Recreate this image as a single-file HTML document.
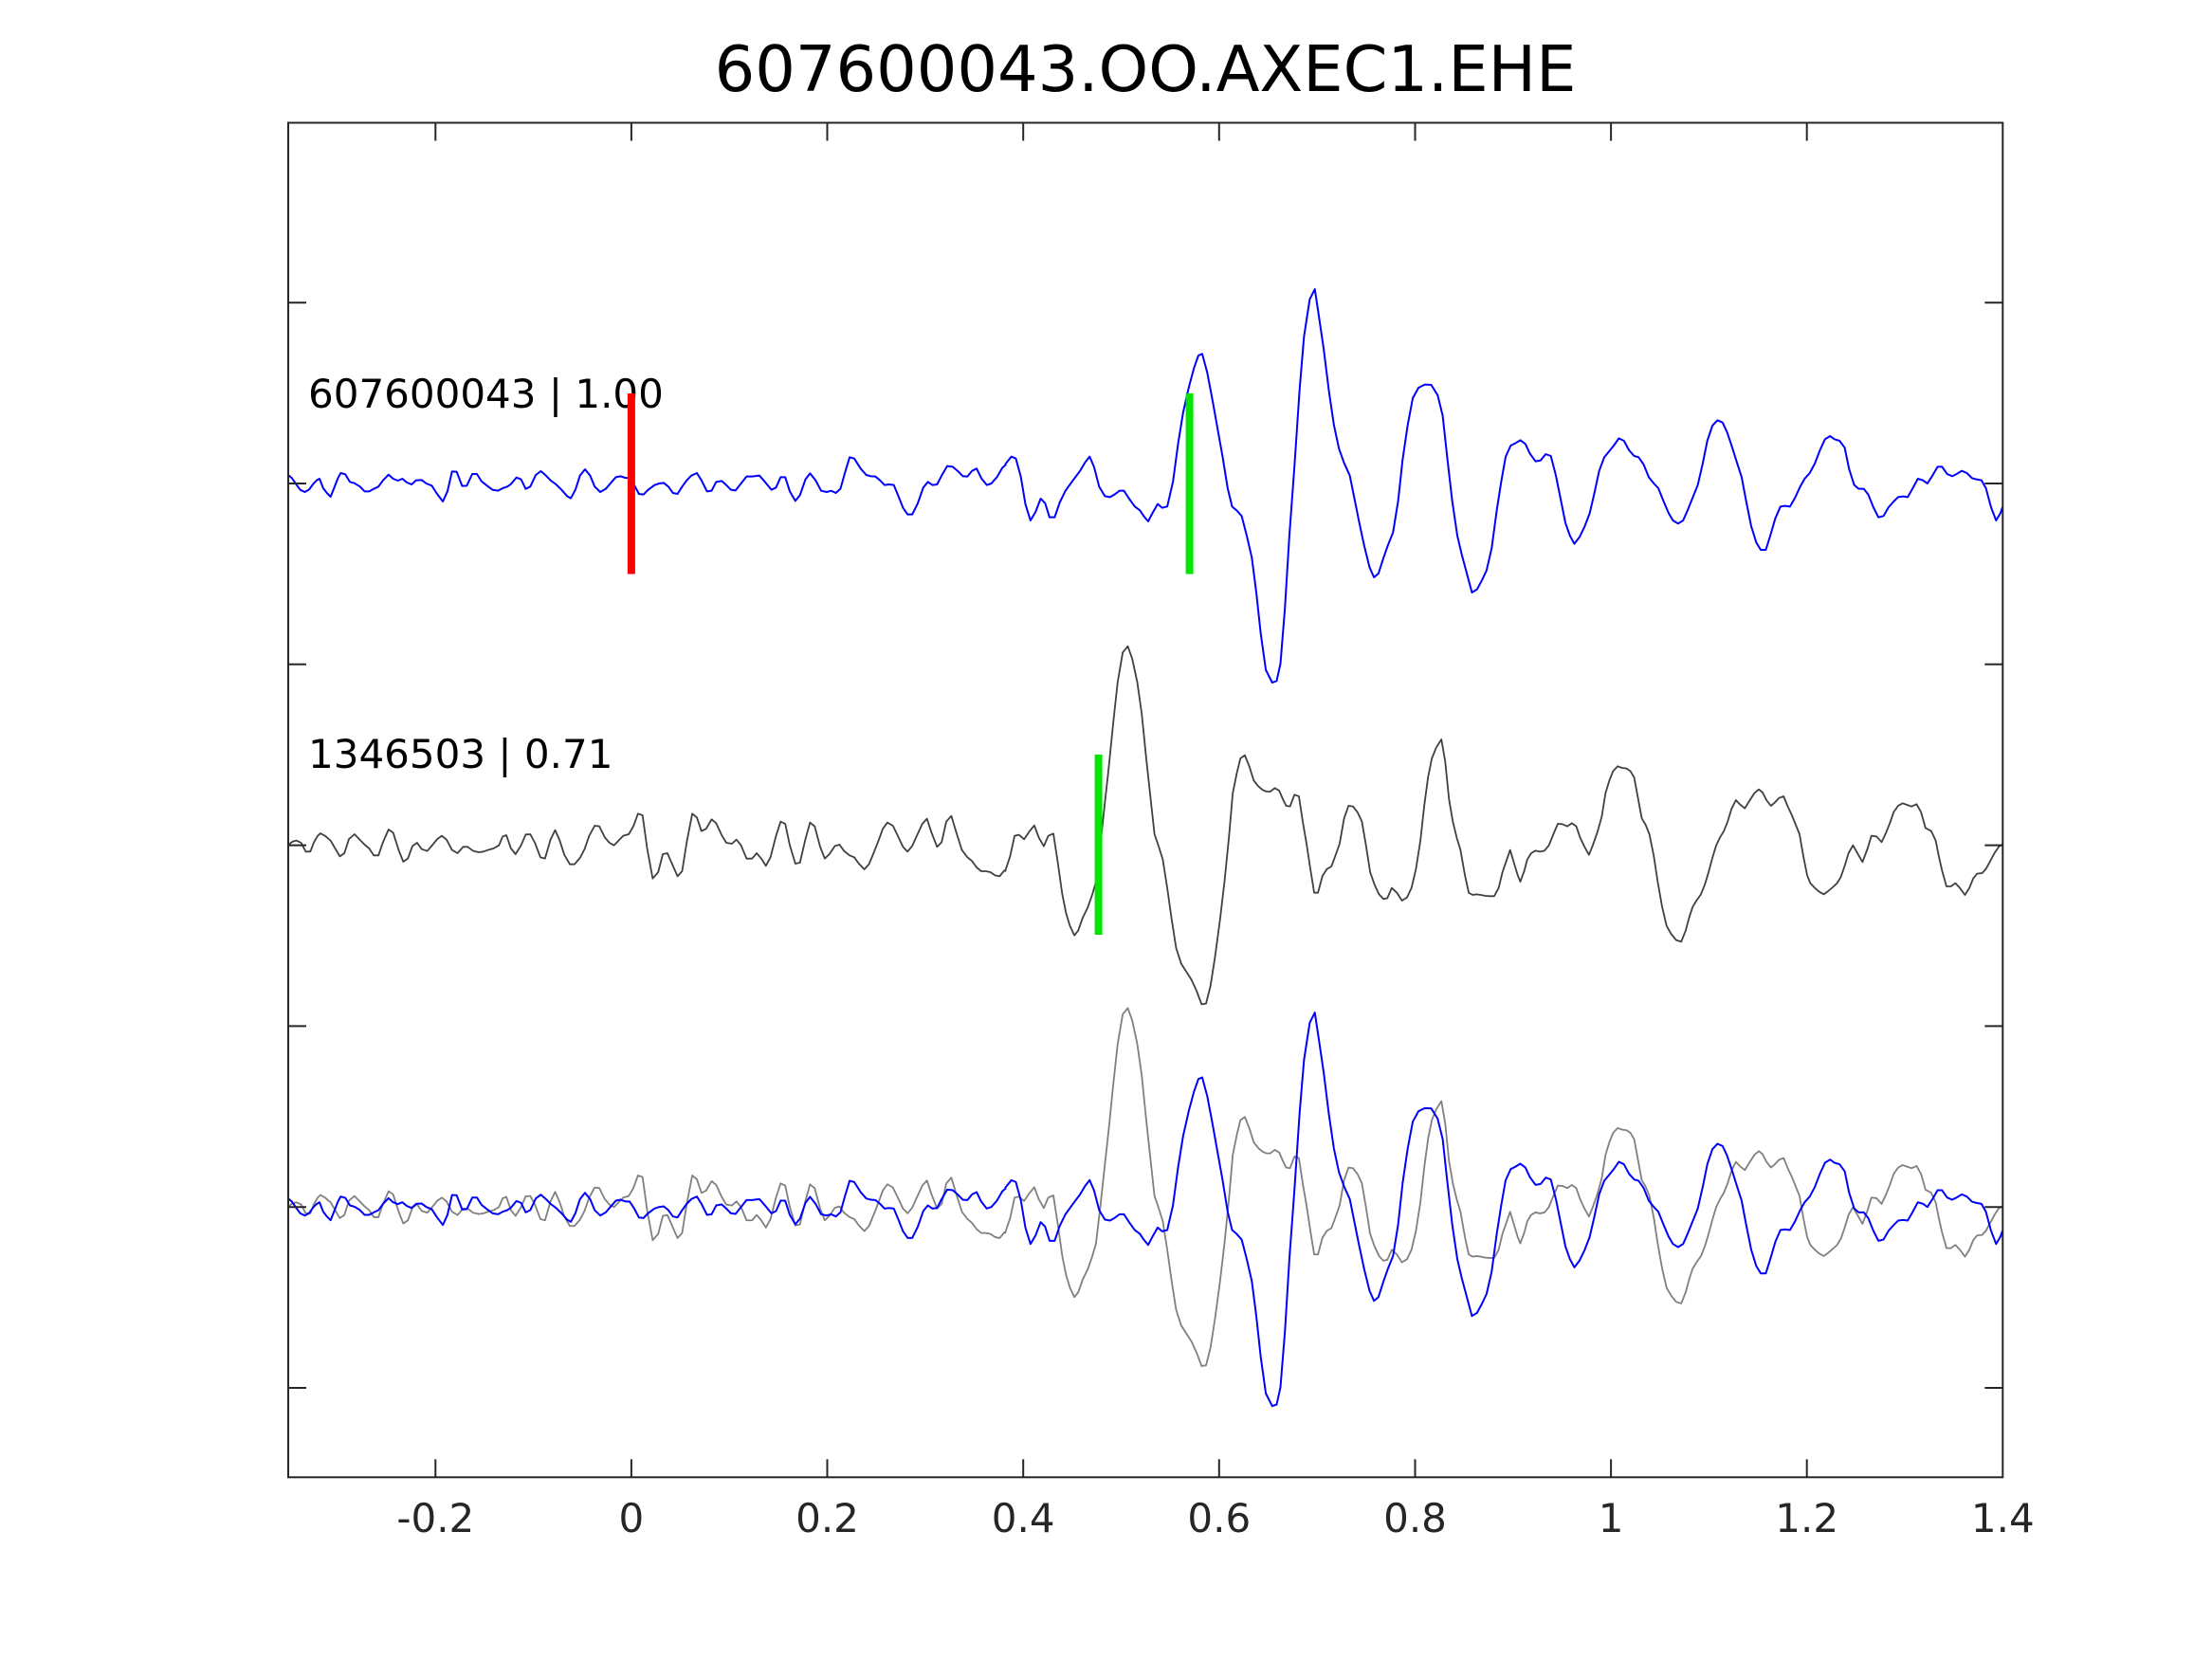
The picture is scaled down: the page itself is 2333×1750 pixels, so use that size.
<!DOCTYPE html>
<html>
<head>
<meta charset="utf-8">
<style>
  html, body { margin:0; padding:0; background:#ffffff; }
  body { width:2333px; height:1750px; overflow:hidden; }
  svg { display:block; }
  text { font-family: "DejaVu Sans", "Liberation Sans", sans-serif; }
</style>
</head>
<body>
<svg width="2333" height="1750" viewBox="0 0 2333 1750" xmlns="http://www.w3.org/2000/svg">
  <rect x="0" y="0" width="2333" height="1750" fill="#ffffff"/>
  <defs>
    <g id="blue" fill="none" stroke-linejoin="round">
      <polyline vector-effect="non-scaling-stroke" transform="translate(304 465) scale(0.48534 0.333333)" points="0,108 8,118 16,135 26,155 36,162 45,155 55,135 62,125 68,120 76,150 84,165 92,177 100,148 108,118 114,102 124,106 134,130 144,134 156,145 166,160 176,160 186,152 196,145 206,125 218,107 228,120 238,126 248,120 258,132 268,138 278,125 290,124 300,135 312,142 322,165 336,192 346,160 356,97 366,98 378,143 388,142 400,105 410,105 420,128 432,142 444,155 456,158 466,150 476,145 484,137 496,116 506,122 516,152 526,145 538,108 549,96 560,110 570,125 582,138 594,155 606,175 614,182 624,155 634,110 645,90 656,110 666,145 678,162 690,152 700,135 712,115 722,112 732,117 742,118 752,140 762,168 772,170 782,155 796,140 806,135 816,133 826,145 836,165 846,168 856,145 866,125 876,110 888,102 898,125 910,160 920,158 930,130 942,127 952,140 962,155 972,157 984,135 996,113 1008,113 1024,110 1036,130 1050,155 1060,148 1070,115 1080,115 1090,160 1102,190 1112,172 1124,122 1134,103 1146,125 1158,158 1170,162 1180,158 1190,165 1200,152 1210,100 1220,52 1230,56 1244,88 1256,108 1266,112 1276,113 1286,125 1296,140 1306,138 1316,140 1326,175 1336,212 1346,233 1356,233 1368,198 1380,148 1390,130 1400,140 1410,138 1420,110 1432,80 1444,82 1456,97 1466,112 1476,113 1486,95 1496,88 1506,118 1518,140 1528,135 1540,115 1552,85 1560,75"/>
      <polyline vector-effect="non-scaling-stroke" transform="translate(1060 295) scale(0.67092 0.333333)" points="0,585 10,560 17,566 25,625 32,710 40,762 48,735 56,693 63,707 70,752 78,752 86,705 95,668 105,640 118,605 126,578 133,560 140,593 148,655 157,685 165,688 172,680 180,668 187,668 195,693 204,718 212,730 218,748 225,765 232,738 240,710 247,722 255,718 264,640 272,520 280,420 289,340 297,280 304,240 310,235 318,295 326,380 334,470 342,560 350,660 357,718 364,730 372,748 380,810 388,880 395,990 402,1120 410,1235 420,1275 427,1270 433,1215 440,1040 447,810 455,590 463,350 470,180 479,62 487,30 493,110 501,220 509,350 517,460 525,535 533,580 542,620 550,700 557,770 565,845 573,910 580,942 587,930 595,880 602,840 610,800 618,700 625,570 633,460 641,375 650,342 660,332 670,333 680,365 688,430 695,560 703,700 711,810 718,870 726,930 734,990 742,980 750,950 757,920 765,850 773,730 780,640 787,560 795,525 802,518 810,508 818,520 825,550 834,575 842,572 850,552 858,558 866,620 874,700 881,770 888,810 895,836 903,815 911,782 919,740 926,680 934,605 942,562 949,545 957,525 965,502 973,510 981,540 989,558 996,562 1004,585 1012,625 1020,645 1027,660 1035,700 1043,738 1050,762 1058,772 1066,762 1073,730 1081,690 1089,650 1097,580 1104,510 1112,462 1120,445 1128,452 1135,482 1143,530 1150,575 1158,625 1165,700 1173,780 1181,832 1188,855 1196,855 1203,810 1211,755 1219,718 1226,716 1234,718 1242,690 1250,655 1257,630 1265,612 1273,582 1281,540 1289,505 1297,495 1304,505 1312,510 1320,532 1327,600 1335,650 1342,662 1350,662 1357,680 1365,720 1373,752 1381,748 1389,720 1397,702 1404,688 1412,686 1419,688 1427,660 1435,630 1443,635 1450,645 1458,620 1466,592 1473,592 1481,615 1489,622 1496,615 1504,605 1512,612 1520,628 1527,632 1535,635 1542,660 1550,720 1558,762 1565,738 1568,720"/>
    </g>
    <g id="gray" fill="none" stroke-linejoin="round">
      <polyline vector-effect="non-scaling-stroke" transform="translate(304 465) scale(0.48534 0.333333)" points="0,1278 10,1268 18,1265 28,1272 38,1300 48,1300 56,1270 64,1250 70,1242 80,1250 92,1265 102,1290 112,1315 122,1305 132,1260 144,1245 154,1260 166,1278 176,1290 186,1312 196,1312 206,1270 218,1230 228,1240 240,1295 250,1332 260,1322 270,1282 280,1272 290,1292 302,1298 314,1278 324,1260 334,1250 344,1262 356,1295 368,1305 380,1285 390,1285 402,1298 414,1302 424,1300 434,1295 446,1290 458,1280 466,1252 474,1248 484,1290 494,1308 506,1280 516,1246 526,1245 536,1272 548,1318 558,1322 570,1262 580,1232 590,1265 600,1310 612,1340 622,1340 634,1320 644,1292 654,1250 666,1218 676,1220 688,1255 698,1272 708,1280 718,1265 728,1250 740,1245 750,1220 760,1180 770,1185 780,1290 792,1385 804,1365 814,1308 824,1305 836,1345 846,1378 856,1362 866,1270 878,1180 888,1192 898,1235 908,1228 920,1198 930,1210 942,1248 952,1272 964,1275 974,1262 984,1280 996,1322 1008,1322 1018,1305 1028,1322 1038,1345 1048,1318 1060,1250 1070,1205 1080,1212 1090,1280 1102,1338 1112,1335 1124,1260 1134,1208 1144,1220 1156,1285 1166,1322 1176,1308 1188,1282 1198,1278 1208,1298 1220,1312 1230,1318 1240,1338 1252,1356 1262,1340 1272,1305 1282,1268 1292,1228 1302,1208 1314,1218 1324,1248 1336,1285 1346,1300 1356,1282 1366,1250 1378,1212 1388,1196 1398,1240 1410,1285 1420,1270 1430,1205 1441,1187 1452,1240 1464,1295 1476,1318 1486,1330 1496,1350 1506,1362 1516,1362 1526,1365 1536,1375 1546,1378 1556,1360 1560,1362"/>
      <polyline vector-effect="non-scaling-stroke" transform="translate(1060 670) scale(0.67092 0.333333)" points="0,748 8,700 15,635 22,632 30,646 38,622 46,602 53,640 61,668 68,635 76,628 83,720 90,820 96,880 102,920 109,950 115,935 122,895 130,862 137,822 143,780 150,660 157,530 163,420 170,280 177,150 185,55 193,35 200,75 208,150 215,250 222,390 229,520 235,630 241,665 248,710 255,800 262,900 269,990 277,1040 285,1065 293,1090 301,1125 309,1168 316,1166 323,1110 330,1020 338,900 345,780 352,640 358,500 364,440 370,390 377,380 384,415 391,460 398,478 405,490 411,495 417,495 424,484 431,492 437,520 442,540 448,542 455,505 462,510 468,590 474,660 480,740 486,815 492,815 499,762 506,740 513,732 519,700 526,660 533,580 540,540 547,542 554,560 561,590 567,660 574,750 581,790 588,820 595,835 601,832 608,800 616,815 624,840 632,830 639,800 646,740 653,650 659,540 665,450 671,390 678,355 686,330 692,400 698,520 704,590 710,640 716,680 723,760 729,815 735,822 741,820 748,822 755,825 762,826 769,826 776,800 782,750 788,715 794,680 800,720 806,760 810,780 816,748 821,710 827,690 834,682 841,685 848,682 855,665 862,630 869,597 876,598 884,605 891,595 898,605 904,640 911,670 918,695 924,665 931,625 938,575 944,500 950,460 956,430 963,415 970,420 977,422 983,430 989,450 995,515 1001,580 1007,600 1013,630 1020,700 1026,780 1033,860 1040,920 1047,945 1055,965 1063,970 1070,935 1076,890 1081,860 1087,840 1094,820 1100,790 1106,750 1112,705 1118,665 1124,640 1130,620 1136,590 1142,550 1149,522 1155,535 1163,548 1170,525 1178,500 1185,488 1191,498 1197,522 1204,540 1210,530 1217,515 1224,510 1230,540 1237,570 1243,600 1249,630 1255,700 1261,760 1266,785 1273,800 1280,812 1287,820 1294,810 1301,798 1308,785 1314,765 1320,730 1326,690 1333,665 1340,690 1348,718 1356,675 1362,635 1370,637 1378,655 1385,625 1391,595 1397,560 1404,540 1411,532 1418,537 1425,542 1433,535 1440,560 1447,610 1456,620 1463,650 1468,700 1473,745 1480,795 1487,795 1494,785 1501,800 1509,822 1516,800 1522,770 1528,755 1536,753 1542,740 1550,710 1556,688 1562,670 1568,662"/>
    </g>
  </defs>

  <!-- Title -->
  <text x="1208" y="96" font-size="67" text-anchor="middle" fill="#000000">607600043.OO.AXEC1.EHE</text>

  <!-- Trace labels -->
  <text x="325" y="430" font-size="42" fill="#000000">607600043 | 1.00</text>
  <text x="325" y="810" font-size="42" fill="#000000">1346503 | 0.71</text>

  <!-- Trace 1: blue -->
  <g stroke="#0000ff" stroke-width="2"><use href="#blue"/></g>
  <!-- Trace 2: dark gray -->
  <g stroke="#404040" stroke-width="1.8"><use href="#gray"/></g>
  <!-- Trace 3: overlay -->
  <g stroke="#808080" stroke-width="1.8" transform="translate(0 381.6)"><use href="#gray"/></g>
  <g stroke="#0000ff" stroke-width="2" transform="translate(0 763.2)"><use href="#blue"/></g>

  <!-- Pick markers -->
  <line x1="665.9" y1="415" x2="665.9" y2="605.5" stroke="#ff0000" stroke-width="8"/>
  <line x1="1254.6" y1="415" x2="1254.6" y2="605.5" stroke="#00e600" stroke-width="8"/>
  <line x1="1158.6" y1="796" x2="1158.6" y2="986" stroke="#00e600" stroke-width="8"/>

  <!-- Axes box -->
  <rect x="304" y="129.5" width="1808.3" height="1428.8" fill="none" stroke="#262626" stroke-width="2"/>

  <!-- X ticks (bottom & top) -->
  <g stroke="#262626" stroke-width="2">
    <line x1="459.3" y1="1558.3" x2="459.3" y2="1539.3"/><line x1="459.3" y1="129.5" x2="459.3" y2="148.5"/>
    <line x1="665.9" y1="1558.3" x2="665.9" y2="1539.3"/><line x1="665.9" y1="129.5" x2="665.9" y2="148.5"/>
    <line x1="872.5" y1="1558.3" x2="872.5" y2="1539.3"/><line x1="872.5" y1="129.5" x2="872.5" y2="148.5"/>
    <line x1="1079.2" y1="1558.3" x2="1079.2" y2="1539.3"/><line x1="1079.2" y1="129.5" x2="1079.2" y2="148.5"/>
    <line x1="1285.8" y1="1558.3" x2="1285.8" y2="1539.3"/><line x1="1285.8" y1="129.5" x2="1285.8" y2="148.5"/>
    <line x1="1492.5" y1="1558.3" x2="1492.5" y2="1539.3"/><line x1="1492.5" y1="129.5" x2="1492.5" y2="148.5"/>
    <line x1="1699.1" y1="1558.3" x2="1699.1" y2="1539.3"/><line x1="1699.1" y1="129.5" x2="1699.1" y2="148.5"/>
    <line x1="1905.7" y1="1558.3" x2="1905.7" y2="1539.3"/><line x1="1905.7" y1="129.5" x2="1905.7" y2="148.5"/>
  </g>

  <!-- Y ticks (left & right) -->
  <g stroke="#262626" stroke-width="2">
    <line x1="304" y1="319.2" x2="323" y2="319.2"/><line x1="2112.3" y1="319.2" x2="2093.3" y2="319.2"/>
    <line x1="304" y1="510" x2="323" y2="510"/><line x1="2112.3" y1="510" x2="2093.3" y2="510"/>
    <line x1="304" y1="700.8" x2="323" y2="700.8"/><line x1="2112.3" y1="700.8" x2="2093.3" y2="700.8"/>
    <line x1="304" y1="891.6" x2="323" y2="891.6"/><line x1="2112.3" y1="891.6" x2="2093.3" y2="891.6"/>
    <line x1="304" y1="1082.4" x2="323" y2="1082.4"/><line x1="2112.3" y1="1082.4" x2="2093.3" y2="1082.4"/>
    <line x1="304" y1="1273.2" x2="323" y2="1273.2"/><line x1="2112.3" y1="1273.2" x2="2093.3" y2="1273.2"/>
    <line x1="304" y1="1464" x2="323" y2="1464"/><line x1="2112.3" y1="1464" x2="2093.3" y2="1464"/>
  </g>

  <!-- X tick labels -->
  <g font-size="42" fill="#262626" text-anchor="middle">
    <text x="459.3" y="1616">-0.2</text>
    <text x="665.9" y="1616">0</text>
    <text x="872.5" y="1616">0.2</text>
    <text x="1079.2" y="1616">0.4</text>
    <text x="1285.8" y="1616">0.6</text>
    <text x="1492.5" y="1616">0.8</text>
    <text x="1699.1" y="1616">1</text>
    <text x="1905.7" y="1616">1.2</text>
    <text x="2112.3" y="1616">1.4</text>
  </g>
</svg>
</body>
</html>
